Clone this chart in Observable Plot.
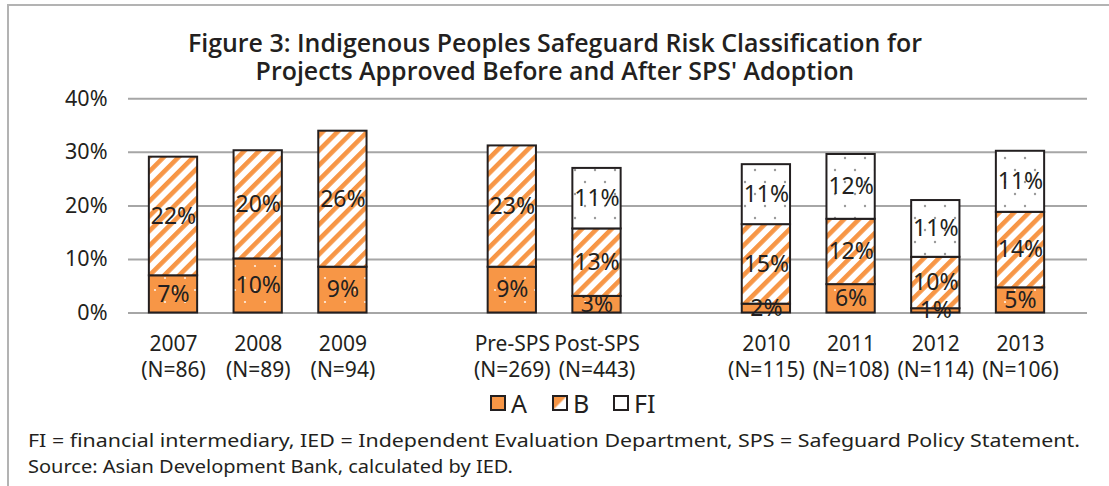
<!DOCTYPE html>
<html>
<head>
<meta charset="utf-8">
<script src="https://cdn.jsdelivr.net/npm/d3@7"></script>
<script src="https://cdn.jsdelivr.net/npm/@observablehq/plot@0.6"></script>
<style>
  html, body { margin: 0; padding: 0; background: #fff; }
  body { width: 1109px; height: 486px; position: relative; overflow: hidden; font-family: "Noto Sans", "Open Sans", sans-serif; color: #231f20; }
  #frameTop { position: absolute; left: 7px; top: 4px; width: 1102px; height: 0; border-top: 2px solid #b3b3b3; }
  #frameLeft { position: absolute; left: 7px; top: 4px; width: 0; height: 482px; border-left: 2px solid #b3b3b3; }
  #titleWrap { position: absolute; left: 0; width: 1109px; top: 28px; text-align: center; }
  #title { display: inline-block; text-align: center; font-weight: 600; font-size: 25px; line-height: 28px; font-family: "Open Sans", "Noto Sans", sans-serif; white-space: pre; transform-origin: center; }
  #chart { position: absolute; left: 0; top: 80px; }
  #legend { position: absolute; top: 388px; left: 0; width: 1109px; height: 30px; }
  .lg { position: absolute; top: 0; display: flex; align-items: center; font-size: 25px; height: 30px; }
  .lg svg { margin-right: 5px; }
  #caption { position: absolute; left: 28px; top: 427px; font-size: 18px; line-height: 26px; white-space: nowrap; }
</style>
</head>
<body>
<div id="frameTop"></div>
<div id="frameLeft"></div>
<div id="titleWrap"><div id="title">Figure 3: Indigenous Peoples Safeguard Risk Classification for
Projects Approved Before and After SPS' Adoption</div></div>
<div id="chart"></div>
<div id="legend"></div>
<div id="caption"><div id="c1">FI = financial intermediary, IED = Independent Evaluation Department, SPS = Safeguard Policy Statement.</div><div id="c2">Source: Asian Development Bank, calculated by IED.</div></div>
<script>
// ---- data ----
const categories = ["2007", "2008", "2009", "gap1", "Pre-SPS", "Post-SPS", "gap2", "2010", "2011", "2012", "2013"];
const tickLabels = ["2007\n(N=86)", "2008\n(N=89)", "2009\n(N=94)", "", "Pre-SPS\n(N=269)", "Post-SPS\n(N=443)", "", "2010\n(N=115)", "2011\n(N=108)", "2012\n(N=114)", "2013\n(N=106)"];
const seriesA  = [6.95, 10.1, 8.55, null, 8.55, 3.1, null, 1.65, 5.3, 0.8, 4.7];
const seriesB  = [22.15, 20.2, 25.4, null, 22.65, 12.6, null, 14.85, 12.2, 9.6, 14.1];
const seriesFI = [0, 0, 0, null, 0, 11.3, null, 11.2, 12.1, 10.6, 11.4];
const labelsA  = ["7%", "10%", "9%", "", "9%", "3%", "", "2%", "6%", "1%", "5%"];
const labelsB  = ["22%", "20%", "26%", "", "23%", "13%", "", "15%", "12%", "10%", "14%"];
const labelsFI = ["", "", "", "", "", "11%", "", "11%", "12%", "11%", "11%"];
const yTicks = [0, 10, 20, 30, 40];
const legendItems = ["A", "B", "FI"];

// ---- build rows ----
const rows = [];
categories.forEach((c, i) => {
  if (seriesA[i] == null) return;
  let lo = 0;
  [["A", seriesA, labelsA], ["B", seriesB, labelsB], ["FI", seriesFI, labelsFI]].forEach(([s, vals, labs]) => {
    const v = vals[i];
    if (v > 0) {
      rows.push({cat: c, series: s, lo, hi: lo + v, label: labs[i]});
      lo += v;
    }
  });
});
const fills = {A: "url(#patA)", B: "url(#patB)", FI: "url(#patFI)"};
const fontFam = "'Noto Sans', 'Open Sans', sans-serif";

const chart = Plot.plot({
  width: 1109,
  height: 300,
  marginLeft: 128,
  marginRight: 22,
  marginTop: 18.3,
  marginBottom: 67.5,
  style: {fontFamily: fontFam, color: "#231f20", background: "transparent", overflow: "visible"},
  x: {domain: categories, range: [130.65, 1062.35], paddingInner: 0.43, paddingOuter: 0.215, round: false, axis: null},
  y: {domain: [0, 40], axis: null},
  marks: [
    Plot.gridY(yTicks, {stroke: "#a6a6a6", strokeOpacity: 1, strokeWidth: 2}),
    Plot.axisY(yTicks, {tickFormat: d => d + "%", tickSize: 0, tickPadding: 21, fontSize: 21.5, fill: "#231f20"}),
    ...["A", "B", "FI"].map(s => Plot.barY(rows.filter(r => r.series === s), {
      x: "cat", y1: "lo", y2: "hi", fill: fills[s], stroke: "#231f20", strokeWidth: 2
    })),
    Plot.text(rows, {x: "cat", y: d => (d.lo + d.hi) / 2, text: "label", fontSize: 23, fill: "#231f20"}),
    Plot.text(categories, {x: d => d, frameAnchor: "bottom", lineAnchor: "top", dy: 19, lineHeight: 1.25,
      text: (d, i) => tickLabels[i], fontSize: 21, fill: "#231f20"})
  ]
});

// ---- patterns ----
const defs = d3.create("svg:defs");
const pA = defs.append("pattern").attr("id", "patA").attr("patternUnits", "userSpaceOnUse").attr("width", 20).attr("height", 24);
pA.append("rect").attr("width", 20).attr("height", 24).attr("fill", "#f79646");
[[5, 6], [15, 18]].forEach(([cx, cy]) => pA.append("circle").attr("cx", cx).attr("cy", cy).attr("r", 1.1).attr("fill", "#fff").attr("fill-opacity", 0.85));
const pB = defs.append("pattern").attr("id", "patB").attr("patternUnits", "userSpaceOnUse").attr("width", 10.5).attr("height", 10.5).attr("patternTransform", "rotate(45)");
pB.append("rect").attr("width", 10.5).attr("height", 10.5).attr("fill", "#fff");
pB.append("rect").attr("width", 4.6).attr("height", 10.5).attr("fill", "#f79646");
const pF = defs.append("pattern").attr("id", "patFI").attr("patternUnits", "userSpaceOnUse").attr("width", 20).attr("height", 24);
pF.append("rect").attr("width", 20).attr("height", 24).attr("fill", "#fff");
[[5, 6], [15, 18]].forEach(([cx, cy]) => pF.append("circle").attr("cx", cx).attr("cy", cy).attr("r", 1.2).attr("fill", "#9a9a9a"));
chart.insertBefore(defs.node(), chart.firstChild);
document.getElementById("chart").appendChild(chart);

// ---- legend ----
const legend = d3.select("#legend");
const legendX = [490, 552, 613];
const swatchFill = {A: "#f79646", B: "url(#lgB)", FI: "#fff"};
legendItems.forEach((k, i) => {
  const item = legend.append("div").attr("class", "lg").style("left", legendX[i] + "px");
  const sv = item.append("svg").attr("width", 16).attr("height", 16);
  if (k === "B") {
    const lg = sv.append("defs").append("linearGradient").attr("id", "lgB").attr("x1", 0).attr("y1", 0).attr("x2", 1).attr("y2", 1);
    lg.append("stop").attr("offset", "0.45").attr("stop-color", "#f79646");
    lg.append("stop").attr("offset", "0.55").attr("stop-color", "#fff");
  }
  sv.append("rect").attr("x", 1).attr("y", 1).attr("width", 14).attr("height", 14).attr("fill", swatchFill[k]).attr("stroke", "#231f20").attr("stroke-width", 2);
  item.append("span").text(k);
});

// ---- fit title / caption widths to the reference ----
(function () {
  const el = document.getElementById("title");
  const w = el.getBoundingClientRect().width;
  if (w > 0) el.style.transform = `scaleX(${734 / w})`;
})();
function fitCap(id, target) {
  const el = document.getElementById(id);
  el.style.display = "inline-block";
  const w = el.getBoundingClientRect().width;
  if (w > 0) { el.style.transformOrigin = "left"; el.style.transform = `scaleX(${target / w})`; }
  el.style.display = "block";
  el.style.width = "max-content";
}
fitCap("c1", 1052);
fitCap("c2", 485);
</script>
</body>
</html>
